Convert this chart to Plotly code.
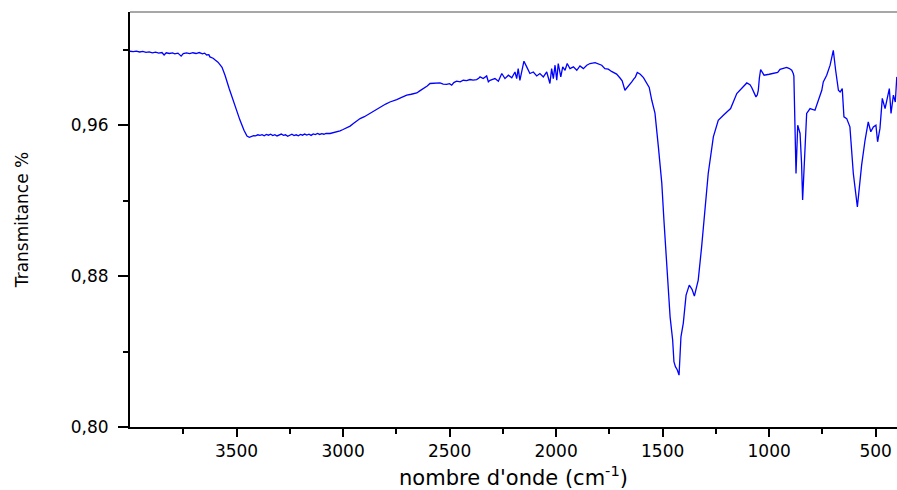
import plotly.graph_objects as go

wavenumber = [
    4000, 3985, 3970, 3955, 3940, 3925, 3910, 3895, 3880, 3865, 3850, 3840, 3830, 3815, 3800,
    3790, 3775, 3760, 3750, 3735, 3720, 3705, 3690, 3675, 3660, 3650, 3640, 3630, 3625, 3610,
    3600, 3587, 3568, 3554, 3535, 3517, 3502, 3484, 3465, 3451, 3440, 3430, 3420, 3410, 3400,
    3390, 3380, 3370, 3360, 3350, 3340, 3330, 3320, 3310, 3300, 3290, 3280, 3270, 3260, 3250,
    3240, 3230, 3220, 3210, 3200, 3190, 3180, 3170, 3160, 3150, 3140, 3130, 3120, 3110, 3100,
    3090, 3080, 3061, 3045, 3030, 3014, 3000, 2985, 2967, 2950, 2930, 2920, 2900, 2874, 2850,
    2827, 2800, 2780, 2760, 2748, 2725, 2701, 2680, 2654, 2640, 2623, 2605, 2592, 2570, 2545,
    2530, 2514, 2500, 2490, 2480, 2467, 2450, 2436, 2420, 2404, 2390, 2373, 2362, 2357, 2342,
    2326, 2318, 2310, 2298, 2287, 2271, 2255, 2240, 2224, 2208, 2193, 2185, 2178, 2170, 2162,
    2151, 2138, 2123, 2107, 2091, 2076, 2060, 2044, 2037, 2029, 2021, 2013, 2005, 1997, 1990,
    1978, 1969, 1958, 1948, 1935, 1919, 1903, 1888, 1872, 1856, 1841, 1817, 1802, 1786, 1771,
    1755, 1740, 1730, 1716, 1700, 1690, 1677, 1665, 1655, 1645, 1635, 1628, 1619, 1605, 1590,
    1575, 1563, 1551, 1536, 1520, 1504, 1494, 1481, 1465, 1453, 1447, 1440, 1431, 1423, 1414,
    1403, 1390, 1375, 1362, 1351, 1340, 1333, 1317, 1301, 1286, 1262, 1239, 1215, 1181, 1152,
    1120, 1105, 1090, 1082, 1070, 1062, 1056, 1051, 1046, 1040, 1032, 1024, 1000, 981, 960,
    949, 926, 918, 905, 894, 887, 884, 874, 866, 855, 848, 843, 832, 824, 808,
    785, 769, 753, 746, 730, 714, 699, 688, 675, 667, 657, 649, 636, 621, 605,
    586, 566, 550, 535, 523, 511, 499, 491, 480, 469, 456, 445, 436, 428, 417,
    408, 401,
]

transmittance = [
    0.9992, 0.9990, 0.9993, 0.9988, 0.9991, 0.9986, 0.9989, 0.9983, 0.9987, 0.9982, 0.9985, 0.9972, 0.9984, 0.9980, 0.9983,
    0.9978, 0.9982, 0.9966, 0.9980, 0.9983, 0.9979, 0.9984, 0.9980, 0.9985, 0.9978, 0.9982, 0.9972, 0.9974, 0.9962, 0.9955,
    0.9945, 0.9934, 0.9907, 0.9865, 0.9796, 0.9732, 0.9679, 0.9627, 0.9573, 0.9542, 0.9536, 0.9540, 0.9545, 0.9543, 0.9549,
    0.9546, 0.9550, 0.9544, 0.9551, 0.9547, 0.9552, 0.9545, 0.9550, 0.9543, 0.9548, 0.9553, 0.9546, 0.9549, 0.9541, 0.9547,
    0.9552, 0.9545, 0.9549, 0.9544, 0.9551, 0.9547, 0.9553, 0.9548, 0.9552, 0.9546, 0.9554, 0.9550, 0.9556, 0.9551, 0.9555,
    0.9552, 0.9557, 0.9556, 0.9560, 0.9565, 0.9570, 0.9577, 0.9585, 0.9595, 0.9610, 0.9626, 0.9635, 0.9645, 0.9662, 0.9678,
    0.9697, 0.9712, 0.9723, 0.9730, 0.9736, 0.9747, 0.9759, 0.9764, 0.9771, 0.9782, 0.9794, 0.9808, 0.9821, 0.9822, 0.9824,
    0.9818, 0.9816, 0.9820, 0.9812, 0.9826, 0.9833, 0.9830, 0.9838, 0.9836, 0.9842, 0.9839, 0.9842, 0.9850, 0.9856, 0.9847,
    0.9861, 0.9830, 0.9838, 0.9843, 0.9847, 0.9833, 0.9874, 0.9847, 0.9865, 0.9851, 0.9882, 0.9847, 0.9900, 0.9838, 0.9882,
    0.9939, 0.9909, 0.9874, 0.9882, 0.9861, 0.9874, 0.9856, 0.9882, 0.9847, 0.9821, 0.9900, 0.9847, 0.9918, 0.9838, 0.9927,
    0.9856, 0.9909, 0.9891, 0.9927, 0.9900, 0.9909, 0.9891, 0.9914, 0.9900, 0.9918, 0.9927, 0.9932, 0.9927, 0.9918, 0.9900,
    0.9897, 0.9885, 0.9880, 0.9871, 0.9850, 0.9835, 0.9785, 0.9800, 0.9815, 0.9829, 0.9845, 0.9855, 0.9879, 0.9870, 0.9852,
    0.9821, 0.9800, 0.9732, 0.9664, 0.9485, 0.9293, 0.9097, 0.8869, 0.8584, 0.8461, 0.8346, 0.8320, 0.8302, 0.8275, 0.8478,
    0.8551, 0.8699, 0.8752, 0.8730, 0.8694, 0.8740, 0.8779, 0.8955, 0.9167, 0.9344, 0.9538, 0.9626, 0.9653, 0.9688, 0.9768,
    0.9810, 0.9824, 0.9815, 0.9800, 0.9770, 0.9750, 0.9760, 0.9785, 0.9850, 0.9895, 0.9880, 0.9865, 0.9870, 0.9874, 0.9880,
    0.9896, 0.9904, 0.9906, 0.9900, 0.9891, 0.9874, 0.9860, 0.9344, 0.9600, 0.9556, 0.9400, 0.9203, 0.9520, 0.9662, 0.9688,
    0.9679, 0.9732, 0.9785, 0.9829, 0.9865, 0.9918, 0.9997, 0.9891, 0.9785, 0.9776, 0.9794, 0.9644, 0.9635, 0.9591, 0.9344,
    0.9167, 0.9388, 0.9520, 0.9617, 0.9565, 0.9591, 0.9600, 0.9512, 0.9583, 0.9742, 0.9688, 0.9750, 0.9794, 0.9662, 0.9759,
    0.9723, 0.9856,
]

x_tickvals = [3500, 3000, 2500, 2000, 1500, 1000, 500]
x_minor_tickvals = [3750, 3250, 2750, 2250, 1750, 1250, 750]
y_tickvals = [0.80, 0.88, 0.96]
y_minor_tickvals = [0.84, 0.92, 1.00]

FONT = "DejaVu Sans"

fig = go.Figure()
fig.add_trace(go.Scatter(
    x=wavenumber, y=transmittance, mode="lines",
    line=dict(color="#0000FF", width=1.3),
    showlegend=False, hoverinfo="skip",
))

fig.update_layout(
    width=897, height=490,
    margin=dict(l=130, r=0, t=12, b=63),
    paper_bgcolor="white", plot_bgcolor="white",
    separators=",.",
    font=dict(family=FONT, color="#000000"),
    shapes=[dict(type="line", xref="paper", yref="paper", x0=0, x1=1, y0=1, y1=1,
                 line=dict(color="#8a8a8a", width=1.5))],
)

fig.update_xaxes(
    range=[4000, 400], showgrid=False, zeroline=False,
    showline=True, linecolor="black", linewidth=2,
    ticks="outside", ticklen=8, tickwidth=2, tickcolor="black",
    tickvals=x_tickvals, tickfont=dict(size=17, family=FONT),
    minor=dict(ticks="outside", ticklen=5, tickwidth=2, tickcolor="black", tickvals=x_minor_tickvals),
    title=dict(text="nombre d'onde (cm<sup>-1</sup>)", font=dict(size=21, family=FONT), standoff=14),
)

fig.update_yaxes(
    range=[0.80, 1.02], showgrid=False, zeroline=False,
    showline=True, linecolor="black", linewidth=2,
    ticks="outside", ticklen=10, tickwidth=2, tickcolor="black",
    tickvals=y_tickvals, tickformat=".2f", tickfont=dict(size=17, family=FONT),
    ticklabelstandoff=6,
    minor=dict(ticks="outside", ticklen=5, tickwidth=2, tickcolor="black", tickvals=y_minor_tickvals),
    title=dict(text="Transmitance %", font=dict(size=17, family=FONT), standoff=38),
)

fig.write_html("out.html")
